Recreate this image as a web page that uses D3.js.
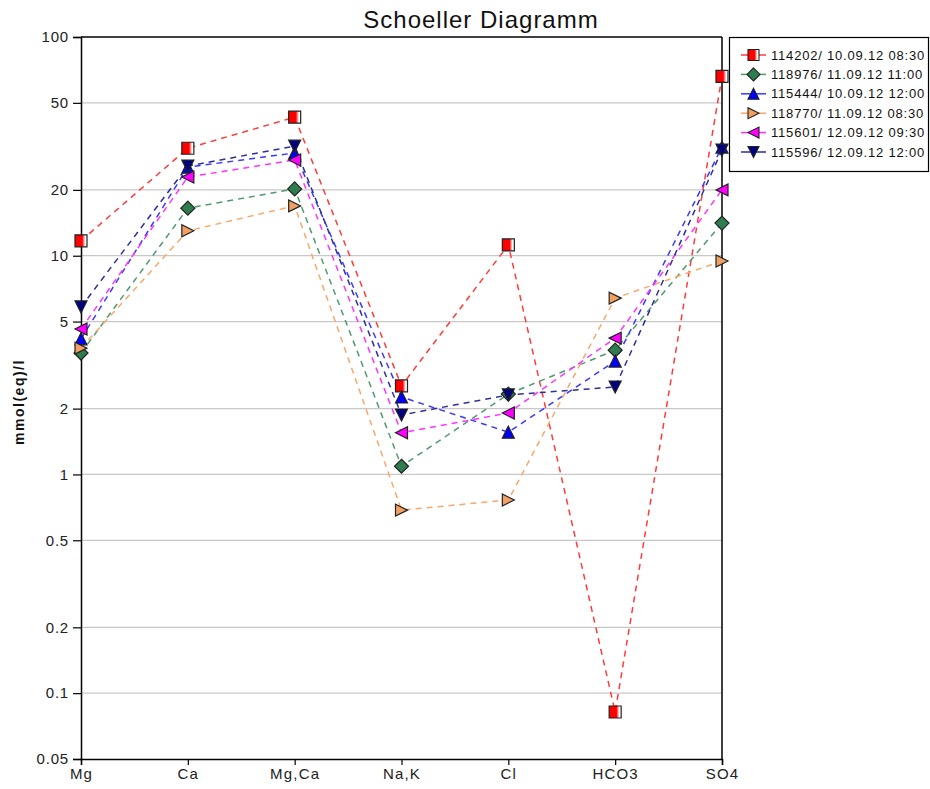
<!DOCTYPE html>
<html><head><meta charset="utf-8">
<script src="https://cdn.jsdelivr.net/npm/d3@7"></script>
<style>body{margin:0;background:#fff;} svg{display:block;font-family:Arial,"Liberation Sans",sans-serif;}</style>
</head><body>
<script>
const categories = ["Mg","Ca","Mg,Ca","Na,K","Cl","HCO3","SO4"];
const seriesNames = ["114202/ 10.09.12 08:30","118976/ 11.09.12 11:00","115444/ 10.09.12 12:00","118770/ 11.09.12 08:30","115601/ 12.09.12 09:30","115596/ 12.09.12 12:00"];
const s114202 = [11.7, 31, 43, 2.54, 11.2, 0.082, 66];
const s118976 = [3.59, 16.5, 20.2, 1.09, 2.33, 3.7, 14.1];
const s115444 = [4.17, 25.4, 29.5, 2.26, 1.56, 3.3, 31.4];
const s118770 = [3.78, 13, 16.9, 0.687, 0.764, 6.4, 9.46];
const s115601 = [4.62, 22.9, 27.4, 1.55, 1.91, 4.2, 20];
const s115596 = [5.83, 25.7, 31.7, 1.87, 2.31, 2.51, 30.4];
const yTicks = [0.05, 0.1, 0.2, 0.5, 1, 2, 5, 10, 20, 50, 100];

const seriesValues = [s114202, s118976, s115444, s118770, s115601, s115596];
const lineColors = ["#ff3b3b","#4f9a6e","#3a3aff","#f7a86a","#ff33ff","#2e2e99"];
const fillColors = ["#ff0000","#2e7d4e","#0000ff","#f0a060","#ff00ff","#000080"];
const shapes = ["square","diamond","up","right","left","down"];

const W = 930, H = 789;
const svg = d3.select("body").append("svg").attr("width",W).attr("height",H);

const defs = svg.append("defs");
const g = defs.append("linearGradient").attr("id","redsq").attr("x1","0").attr("x2","1").attr("y1","0").attr("y2","0");
g.append("stop").attr("offset","0.6").attr("stop-color","#ff0000");
g.append("stop").attr("offset","0.85").attr("stop-color","#ffffff");

const x = d3.scalePoint().domain(categories).range([81, 722]);
const y = d3.scaleLog().domain([0.05, 100]).range([759, 37]);

// title
svg.append("text").attr("x",481).attr("y",28).attr("text-anchor","middle")
  .attr("font-size",24).attr("letter-spacing",1).attr("fill","#111").text("Schoeller Diagramm");

// gridlines
svg.append("g").selectAll("line").data(yTicks.filter(v=>v>0.05 && v<100)).join("line")
  .attr("x1",81).attr("x2",722).attr("y1",d=>y(d)).attr("y2",d=>y(d))
  .attr("stroke","#c8c8c8").attr("stroke-width",1.2);

// frame top and right
svg.append("line").attr("x1",81).attr("x2",722).attr("y1",37).attr("y2",37).attr("stroke","#000").attr("stroke-width",1.5);
svg.append("line").attr("x1",722).attr("x2",722).attr("y1",37).attr("y2",759).attr("stroke","#000").attr("stroke-width",1.5);

// axes
const yAxis = d3.axisLeft(y).tickValues(yTicks).tickFormat(d=>String(d)).tickSize(8).tickPadding(4);
const ya = svg.append("g").attr("transform","translate(81,0)").call(yAxis);
ya.select(".domain").attr("stroke","#000").attr("stroke-width",1.5);
ya.selectAll(".tick line").attr("stroke-width",1.2);
ya.selectAll("text").attr("font-size",15).attr("letter-spacing",0.8).attr("fill","#222").attr("font-family","Arial,'Liberation Sans',sans-serif");

const xAxis = d3.axisBottom(x).tickSize(6).tickPadding(3);
const xa = svg.append("g").attr("transform","translate(0,759)").call(xAxis);
xa.select(".domain").attr("stroke","#000").attr("stroke-width",1.5);
xa.selectAll(".tick line").attr("stroke-width",1.2);
xa.selectAll("text").attr("font-size",15).attr("letter-spacing",1.2).attr("fill","#222").attr("font-family","Arial,'Liberation Sans',sans-serif");

// y label
svg.append("text").attr("transform","translate(24,402) rotate(-90)").attr("text-anchor","middle")
  .attr("font-size",14).attr("letter-spacing",1.5).attr("font-weight","bold").attr("fill","#111").text("mmol(eq)/l");

function markerPath(shape, s){
  const h = s/2;
  switch(shape){
    case "square": return `M${-h},${-h}H${h}V${h}H${-h}Z`;
    case "diamond": return `M0,${-h-1}L${h+1},0L0,${h+1}L${-h-1},0Z`;
    case "up": return `M0,${-h}L${h},${h}L${-h},${h}Z`;
    case "down": return `M0,${h}L${h},${-h}L${-h},${-h}Z`;
    case "right": return `M${h},0L${-h},${h}L${-h},${-h}Z`;
    case "left": return `M${-h},0L${h},${h}L${h},${-h}Z`;
  }
}

const line = d3.line().x((d,i)=>x(categories[i])).y(d=>y(d));
const lines = svg.append("g");
seriesValues.forEach((vals,si)=>{
  lines.append("path").datum(vals).attr("d",line).attr("fill","none")
    .attr("stroke",lineColors[si]).attr("stroke-width",1.5).attr("stroke-dasharray","6,5");
});
const marks = svg.append("g");
seriesValues.forEach((vals,si)=>{
  marks.selectAll(null).data(vals).join("path")
    .attr("transform",(d,i)=>`translate(${x(categories[i])},${y(d)})`)
    .attr("d",markerPath(shapes[si],12))
    .attr("fill",si===0?"url(#redsq)":fillColors[si]).attr("stroke","#222").attr("stroke-width",1.2);
});

// legend
const lg = svg.append("g");
lg.append("rect").attr("x",729.5).attr("y",37.5).attr("width",199).attr("height",134)
  .attr("fill","#fff").attr("stroke","#000").attr("stroke-width",1.2);
seriesNames.forEach((name,si)=>{
  const yy = 55 + si*19.4;
  lg.append("line").attr("x1",741).attr("x2",766).attr("y1",yy).attr("y2",yy)
    .attr("stroke",lineColors[si]).attr("stroke-width",1.5);
  lg.append("path").attr("transform",`translate(753.5,${yy})`).attr("d",markerPath(shapes[si],11))
    .attr("fill",si===0?"url(#redsq)":fillColors[si]).attr("stroke","#222").attr("stroke-width",1.1);
  lg.append("text").attr("x",771).attr("y",yy+4.5).attr("font-size",13).attr("letter-spacing",0.8).attr("fill","#111").text(name);
});
</script>
</body></html>
